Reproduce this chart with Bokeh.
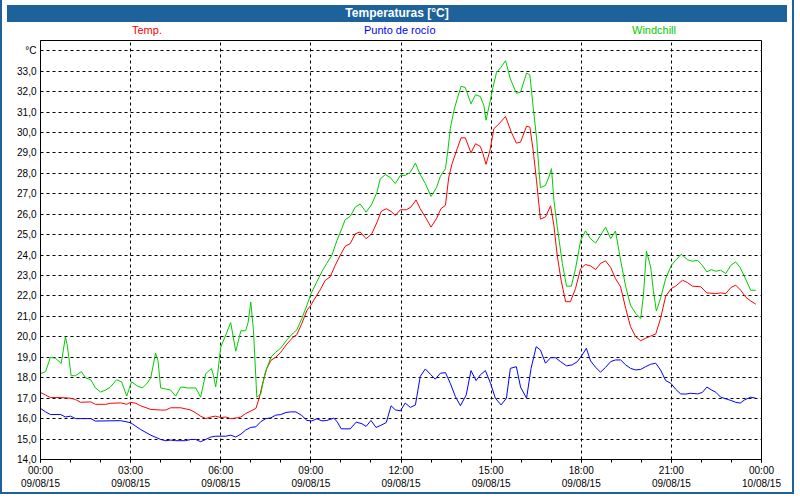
from bokeh.plotting import figure
from bokeh.models import Range1d, FixedTicker, Div
from bokeh.layouts import column
from bokeh.embed import file_html
from bokeh.resources import INLINE

TITLE = "Temperaturas [°C]"
Y_UNIT = "°C"

# times in hours since 09/08/15 00:00
temp_t = [0.00, 0.17, 0.33, 0.67, 1.00, 1.17, 1.33, 1.67, 1.83, 2.17, 2.33, 2.67, 2.87, 3.00, 3.17, 3.33, 3.67, 4.00, 4.17, 4.33, 4.67, 5.00, 5.17, 5.33, 5.50, 5.67, 5.83, 6.00, 6.17, 6.33, 6.56, 6.67, 6.83, 7.00, 7.17, 7.28, 7.39, 7.53, 7.67, 7.83, 8.00, 8.20, 8.42, 8.53, 8.70, 8.87, 9.00, 9.14, 9.31, 9.48, 9.64, 9.81, 9.98, 10.14, 10.31, 10.48, 10.64, 10.84, 11.03, 11.20, 11.34, 11.51, 11.67, 11.81, 11.98, 12.18, 12.33, 12.50, 12.64, 12.81, 13.00, 13.18, 13.33, 13.48, 13.59, 13.70, 13.87, 14.00, 14.14, 14.33, 14.48, 14.64, 14.73, 14.83, 14.96, 15.09, 15.26, 15.48, 15.67, 15.84, 15.98, 16.18, 16.29, 16.40, 16.51, 16.64, 16.81, 16.98, 17.09, 17.20, 17.33, 17.48, 17.64, 17.81, 17.98, 18.14, 18.31, 18.48, 18.64, 18.81, 18.98, 19.14, 19.31, 19.48, 19.64, 19.81, 19.98, 20.14, 20.31, 20.48, 20.64, 20.81, 21.00, 21.14, 21.37, 21.53, 21.70, 21.98, 22.18, 22.48, 22.64, 22.81, 22.98, 23.14, 23.31, 23.48, 23.64, 23.81]
temp_v = [17.28, 17.15, 17.03, 17.03, 17.0, 16.93, 16.8, 16.82, 16.7, 16.7, 16.75, 16.77, 16.7, 16.8, 16.75, 16.63, 16.45, 16.42, 16.42, 16.53, 16.53, 16.42, 16.28, 16.12, 16.0, 16.08, 16.12, 16.05, 16.08, 16.0, 16.04, 16.08, 16.25, 16.37, 16.5, 17.0, 17.7, 18.45, 18.85, 19.0, 19.25, 19.65, 20.0, 20.1, 20.66, 21.3, 21.55, 21.9, 22.3, 22.77, 22.93, 23.5, 24.0, 24.43, 24.56, 25.05, 25.13, 24.8, 25.05, 25.6, 26.14, 26.27, 26.14, 25.94, 26.22, 26.22, 26.35, 26.7, 26.27, 25.86, 25.37, 25.78, 26.27, 26.44, 27.82, 28.47, 29.2, 29.74, 29.74, 29.0, 29.45, 29.32, 28.96, 28.44, 29.12, 30.18, 30.42, 30.78, 30.02, 29.48, 29.53, 30.31, 30.26, 29.12, 27.66, 25.76, 25.87, 26.41, 25.45, 23.99, 22.77, 21.72, 21.72, 22.37, 23.34, 23.54, 23.47, 23.29, 23.59, 23.72, 23.39, 22.85, 22.45, 21.39, 20.5, 20.01, 19.81, 19.93, 20.04, 20.14, 20.9, 21.99, 22.37, 22.48, 22.77, 22.66, 22.48, 22.45, 22.15, 22.12, 22.15, 22.12, 22.41, 22.53, 22.28, 21.93, 21.76, 21.6]

dew_t = [0.00, 0.17, 0.33, 0.67, 0.83, 1.00, 1.17, 1.67, 1.83, 2.67, 3.00, 3.17, 3.33, 3.67, 4.00, 4.17, 4.33, 4.50, 4.83, 5.00, 5.17, 5.33, 5.50, 5.67, 5.83, 6.17, 6.33, 6.50, 6.67, 6.83, 7.00, 7.17, 7.33, 7.50, 7.67, 7.83, 8.00, 8.17, 8.33, 8.50, 8.70, 8.87, 9.03, 9.20, 9.37, 9.53, 9.76, 9.87, 10.01, 10.31, 10.51, 10.70, 10.84, 11.00, 11.17, 11.33, 11.51, 11.67, 11.81, 11.98, 12.14, 12.31, 12.48, 12.64, 12.81, 12.98, 13.14, 13.31, 13.48, 13.64, 13.81, 13.98, 14.17, 14.33, 14.50, 14.64, 14.81, 14.98, 15.14, 15.33, 15.51, 15.64, 15.84, 15.98, 16.18, 16.33, 16.50, 16.64, 16.81, 16.98, 17.14, 17.31, 17.51, 17.70, 17.87, 18.03, 18.17, 18.31, 18.48, 18.64, 18.81, 18.98, 19.14, 19.31, 19.48, 19.64, 19.81, 19.98, 20.14, 20.31, 20.48, 20.64, 20.81, 20.98, 21.14, 21.31, 21.48, 21.64, 21.87, 22.03, 22.18, 22.33, 22.48, 22.64, 22.81, 22.98, 23.14, 23.29, 23.44, 23.64, 23.81]
dew_v = [16.5, 16.33, 16.2, 16.2, 16.08, 16.12, 16.0, 16.0, 15.88, 15.9, 15.8, 15.63, 15.47, 15.19, 14.98, 14.92, 14.95, 14.92, 14.92, 14.98, 14.98, 14.87, 14.98, 15.1, 15.14, 15.14, 15.19, 15.1, 15.24, 15.44, 15.57, 15.6, 15.85, 16.0, 16.04, 16.17, 16.2, 16.3, 16.33, 16.33, 16.15, 15.91, 15.89, 15.99, 15.89, 15.91, 16.02, 15.86, 15.5, 15.5, 15.83, 15.75, 15.62, 15.91, 15.57, 15.67, 15.81, 16.63, 16.43, 16.38, 16.76, 16.55, 16.67, 18.06, 18.43, 18.17, 17.93, 18.22, 18.25, 17.73, 17.08, 16.63, 17.16, 18.35, 17.86, 18.14, 18.35, 17.73, 17.0, 16.67, 17.0, 18.46, 18.54, 17.54, 17.0, 18.46, 19.52, 19.36, 18.71, 18.98, 18.98, 18.79, 18.58, 18.63, 18.79, 19.11, 19.44, 18.82, 18.51, 18.27, 18.51, 18.79, 18.87, 18.87, 18.63, 18.46, 18.38, 18.41, 18.54, 18.66, 18.71, 18.38, 17.86, 17.73, 17.44, 17.21, 17.2, 17.24, 17.21, 17.28, 17.54, 17.41, 17.29, 17.05, 16.97, 16.89, 16.8, 16.76, 16.92, 17.05, 17.0]

wind_t = [0.00, 0.17, 0.33, 0.50, 0.69, 0.83, 0.89, 1.02, 1.17, 1.36, 1.50, 1.67, 1.83, 2.00, 2.17, 2.33, 2.53, 2.70, 2.87, 3.03, 3.22, 3.39, 3.56, 3.67, 3.83, 3.91, 4.00, 4.17, 4.33, 4.50, 4.67, 4.89, 5.17, 5.33, 5.50, 5.69, 5.76, 5.83, 5.89, 6.00, 6.17, 6.33, 6.50, 6.67, 6.83, 6.91, 7.00, 7.09, 7.20, 7.33, 7.47, 7.67, 7.83, 8.00, 8.20, 8.42, 8.53, 8.70, 8.87, 9.00, 9.20, 9.37, 9.53, 9.70, 9.87, 10.03, 10.14, 10.31, 10.48, 10.64, 10.84, 11.03, 11.20, 11.31, 11.48, 11.64, 11.81, 11.98, 12.14, 12.31, 12.48, 12.64, 12.81, 13.00, 13.18, 13.31, 13.48, 13.56, 13.64, 13.76, 13.87, 14.00, 14.14, 14.33, 14.48, 14.64, 14.76, 14.83, 14.96, 15.06, 15.18, 15.33, 15.48, 15.64, 15.84, 15.98, 16.18, 16.29, 16.40, 16.51, 16.64, 16.81, 16.92, 17.01, 17.09, 17.20, 17.37, 17.51, 17.67, 17.81, 17.98, 18.14, 18.31, 18.48, 18.64, 18.81, 18.98, 19.14, 19.31, 19.48, 19.64, 19.81, 19.98, 20.07, 20.17, 20.31, 20.40, 20.50, 20.64, 20.81, 21.00, 21.14, 21.33, 21.53, 21.70, 21.87, 22.03, 22.18, 22.33, 22.48, 22.64, 22.81, 22.98, 23.14, 23.29, 23.44, 23.64, 23.81]
wind_v = [18.2, 18.3, 19.0, 18.95, 18.7, 20.0, 19.6, 18.1, 18.1, 18.3, 18.0, 17.9, 17.5, 17.3, 17.4, 17.55, 17.9, 17.8, 17.1, 17.8, 17.6, 17.5, 17.75, 18.0, 19.2, 18.85, 17.5, 17.45, 17.4, 17.1, 17.55, 17.5, 17.5, 17.05, 18.2, 18.45, 18.1, 17.55, 18.1, 19.5, 20.1, 20.7, 19.3, 20.3, 20.3, 20.7, 21.7, 20.3, 17.05, 17.2, 18.2, 19.0, 19.25, 19.45, 19.85, 20.2, 20.33, 20.9, 21.55, 22.1, 22.7, 23.2, 23.6, 24.0, 24.72, 25.3, 25.73, 25.9, 26.35, 26.5, 26.1, 26.5, 27.08, 27.73, 27.94, 27.8, 27.5, 27.9, 27.9, 28.05, 28.5, 27.94, 27.5, 26.87, 27.3, 27.85, 28.23, 29.12, 30.18, 31.07, 31.64, 32.26, 32.2, 31.4, 31.85, 31.76, 31.32, 30.6, 31.48, 32.2, 32.94, 33.19, 33.51, 32.62, 31.92, 31.97, 32.91, 32.81, 31.24, 29.77, 27.3, 27.41, 27.82, 28.23, 26.68, 25.4, 23.59, 22.48, 22.48, 23.34, 24.72, 25.18, 24.8, 24.59, 24.97, 25.37, 24.8, 25.18, 23.75, 22.45, 21.55, 21.15, 20.9, 22.04, 24.19, 23.42, 22.28, 21.26, 21.88, 22.85, 23.5, 23.75, 24.04, 23.78, 23.7, 23.75, 23.5, 23.18, 23.29, 23.21, 23.26, 23.1, 23.5, 23.67, 23.39, 22.93, 22.28, 22.28]

series_names = ["Temp.", "Punto de rocío", "Windchill"]
series_colors = ["#ff0000", "#0000ff", "#00cc00"]

x_tick_hours = [0, 3, 6, 9, 12, 15, 18, 21, 24]
x_tick_times = ["00:00", "03:00", "06:00", "09:00", "12:00", "15:00", "18:00", "21:00", "00:00"]
x_tick_dates = ["09/08/15"] * 8 + ["10/08/15"]
x_minor_hours = list(range(0, 25))
y_ticks = list(range(14, 35))

FONT = "Liberation Sans"
BLUE = "#1d629b"
W = 780

# header: blue title bar + coloured series names (legend row)
legend_left = [125, 357, 625]  # px from left edge of the header
legend_html = "".join(
    f'<span style="position:absolute;left:{lx}px;top:18px;color:{c};font-size:11px;">{n}</span>'
    for n, c, lx in zip(series_names, series_colors, legend_left)
)
header = Div(
    text=(f'<div style="position:relative;width:{W}px;height:30px;font-family:\'{FONT}\';">'
          f'<div style="background:{BLUE};color:white;font-weight:bold;font-size:12px;'
          f'text-align:center;height:17px;line-height:17px;">{TITLE}</div>'
          f'{legend_html}</div>'),
    width=W, height=30,
)

p = figure(width=W, height=452, output_backend="svg", toolbar_location=None,
           x_range=Range1d(0, 24), y_range=Range1d(14, 34.5),
           min_border_left=38, min_border_right=21, min_border_top=0, min_border_bottom=30)
p.title = None
p.background_fill_color = "white"
p.border_fill_color = "white"
p.outline_line_color = "black"
p.outline_line_alpha = 1.0
p.outline_line_width = 1

for xs, ys, c in zip([temp_t, dew_t, wind_t], [temp_v, dew_v, wind_v], series_colors):
    p.line(xs, ys, line_color=c, line_width=1)

# axes
p.xaxis.ticker = FixedTicker(ticks=x_tick_hours, minor_ticks=x_minor_hours)
p.xaxis.major_label_overrides = {h: f"{t}\n{d}" for h, t, d in zip(x_tick_hours, x_tick_times, x_tick_dates)}
p.xaxis.major_tick_out = 3
p.xaxis.major_tick_in = 0
p.xaxis.minor_tick_out = 3
p.xaxis.minor_tick_in = 0
p.xaxis.major_label_standoff = 2
p.xaxis.major_label_text_line_height = 1.25

p.yaxis.ticker = FixedTicker(ticks=y_ticks)
ylabels = {v: f"{v:.1f}".replace(".", ",") for v in y_ticks}
ylabels[y_ticks[-1]] = Y_UNIT
p.yaxis.major_label_overrides = ylabels
p.yaxis.major_tick_out = 0
p.yaxis.major_tick_in = 0
p.yaxis.minor_tick_out = 0
p.yaxis.minor_tick_in = 0
p.yaxis.major_label_standoff = 4

for ax in (p.xaxis, p.yaxis):
    ax.axis_line_color = "black"
    ax.major_tick_line_color = "black"
    ax.minor_tick_line_color = "black"
    ax.major_label_text_font = FONT
    ax.major_label_text_font_size = "10px"
    ax.major_label_text_color = "black"

p.xgrid.ticker = FixedTicker(ticks=x_tick_hours)
p.ygrid.ticker = FixedTicker(ticks=y_ticks)
for g in (p.xgrid, p.ygrid):
    g.grid_line_color = "black"
    g.grid_line_alpha = 1.0
    g.grid_line_dash = "3 3"
    g.grid_line_width = 1

layout = column(header, p, spacing=0,
                styles={"border-left": f"2px solid {BLUE}", "border-right": f"2px solid {BLUE}",
                        "border-bottom": f"2px solid {BLUE}"})

open("out.html", "w").write(file_html(layout, INLINE))
